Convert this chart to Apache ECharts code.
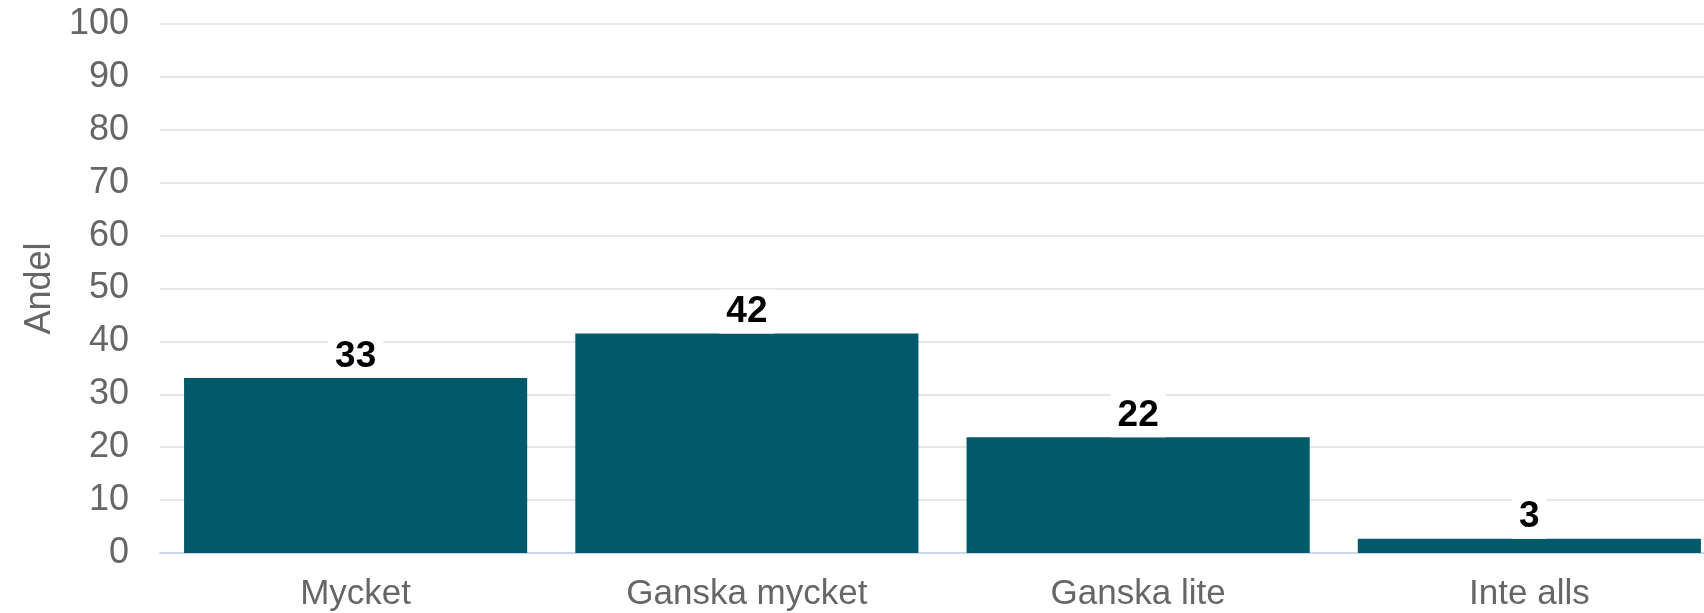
<!DOCTYPE html>
<html>
<head>
<meta charset="utf-8">
<script src="https://cdn.jsdelivr.net/npm/echarts@6/dist/echarts.min.js"></script>
<style>
html,body{margin:0;padding:0;background:#fff;overflow:hidden;width:1704px;height:613px;}
#chart{width:1725px;height:613px;}
</style>
</head>
<body>
<div id="chart"></div>
<script>
const categories = ["Mycket", "Ganska mycket", "Ganska lite", "Inte alls"];
const values = [33.1, 41.5, 21.9, 2.7];
const valueLabels = ["33", "42", "22", "3"];
const yTicks = [0, 10, 20, 30, 40, 50, 60, 70, 80, 90, 100];
const yAxisName = "Andel";

const chart = echarts.init(document.getElementById('chart'), null, {renderer: 'canvas'});
const font = '"Liberation Sans", Arial, sans-serif';
chart.setOption({
  animation: false,
  backgroundColor: '#ffffff',
  grid: {left: 160, right: 0, top: 24, bottom: 60, containLabel: false},
  xAxis: {
    type: 'category',
    data: categories,
    axisLine: {show: true, lineStyle: {color: '#ccd6eb', width: 2}},
    axisTick: {show: false},
    axisLabel: {color: '#666666', fontSize: 35, fontFamily: font, margin: 24}
  },
  yAxis: {
    type: 'value',
    min: yTicks[0],
    max: yTicks[yTicks.length - 1],
    interval: 10,
    name: yAxisName,
    nameLocation: 'middle',
    nameGap: 101,
    nameRotate: 90,
    nameTextStyle: {color: '#666666', fontSize: 36, fontFamily: font},
    axisLine: {show: false},
    axisTick: {show: false},
    splitLine: {lineStyle: {color: '#e6e6e6', width: 2}},
    axisLabel: {color: '#666666', fontSize: 36, fontFamily: font, margin: 31}
  },
  series: [{
    type: 'bar',
    data: values,
    barCategoryGap: '12.3%',
    itemStyle: {color: '#015a69'},
    label: {
      show: true,
      position: 'top',
      distance: 0,
      formatter: p => valueLabels[p.dataIndex],
      color: '#000000',
      fontSize: 37,
      fontWeight: 'bold',
      fontFamily: font,
      backgroundColor: '#ffffff',
      padding: [4, 7, 3, 7]
    }
  }]
});
</script>
</body>
</html>
